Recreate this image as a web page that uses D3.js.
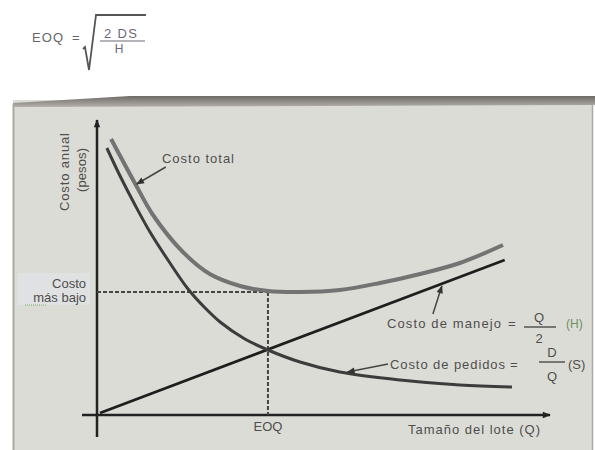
<!DOCTYPE html>
<html>
<head>
<meta charset="utf-8">
<script src="https://cdn.jsdelivr.net/npm/d3@7"></script>
<style>
  body { margin: 0; background: #fff; }
  text { font-family: "Liberation Sans", Arial, sans-serif; fill: #4e4e4e; }
</style>
</head>
<body>
<svg id="chart" width="595" height="450"></svg>
<script>
// lot size Q (x) and annual cost (y)
var orderQ    = [0.23, 0.54, 0.89, 1.24, 1.66, 2.13, 2.53, 2.88, 3.46, 4.0, 4.75, 5.68, 7.09, 8.49, 9.71];
var orderCost = [26.7, 23.9, 21.0, 18.3, 15.5, 12.6, 10.7, 9.3, 7.6, 6.5, 5.3, 4.3, 3.5, 3.0, 2.8];
var totalQ    = [0.33, 0.91, 1.31, 2.01, 2.64, 3.35, 4.0, 4.75, 5.68, 6.62, 7.56, 8.49, 9.5];
var totalCost = [27.6, 23.0, 20.0, 16.3, 14.1, 12.9, 12.4, 12.3, 12.5, 13.2, 14.1, 15.2, 17.0];
var holdQ     = [0.07, 9.54];
var holdCost  = [0.2, 15.5];
var eoq = 4.0;
var lowestCost = 12.3;

var svg = d3.select('#chart');

var x = d3.scaleLinear().domain([0, 10.6]).range([97, 550]);
var y = d3.scaleLinear().domain([0, 29.5]).range([415, 120]);

var defs = svg.append('defs');
var grad = defs.append('linearGradient').attr('id', 'band')
  .attr('x1', 0).attr('y1', 0).attr('x2', 0).attr('y2', 1);
grad.append('stop').attr('offset', '0%').attr('stop-color', '#6e6a66');
grad.append('stop').attr('offset', '100%').attr('stop-color', '#b3b0ab');

defs.append('marker').attr('id', 'head')
  .attr('viewBox', '0 -5 10 10').attr('refX', 9).attr('refY', 0)
  .attr('markerUnits', 'userSpaceOnUse')
  .attr('markerWidth', 9).attr('markerHeight', 8).attr('orient', 'auto')
  .append('path').attr('d', 'M0,-4L10,0L0,4Z').attr('fill', '#333');

defs.append('marker').attr('id', 'axisHead')
  .attr('viewBox', '0 -5 10 10').attr('refX', 9).attr('refY', 0)
  .attr('markerUnits', 'userSpaceOnUse')
  .attr('markerWidth', 10).attr('markerHeight', 8).attr('orient', 'auto')
  .append('path').attr('d', 'M0,-4L10,0L0,4Z').attr('fill', '#222');

// formula at the top
var f = svg.append('g').attr('class', 'formula');
f.append('text').attr('x', 32).attr('y', 42).style('font-size', '13px').style('fill', '#666')
  .attr('textLength', 31).text('EOQ');
f.append('text').attr('x', 72).attr('y', 42).style('font-size', '13px').style('fill', '#666').text('=');
f.append('path')
  .attr('d', 'M83,49 L85,47 L89,70 L96,15 L146,15')
  .attr('fill', 'none').attr('stroke', '#555').attr('stroke-width', 1.8);
f.append('text').attr('x', 104).attr('y', 38).style('font-size', '13px').style('fill', '#6f6878')
  .attr('textLength', 33).attr('lengthAdjust', 'spacing').text('2 DS');
f.append('line').attr('x1', 100).attr('x2', 145).attr('y1', 41).attr('y2', 41)
  .attr('stroke', '#6f6878').attr('stroke-width', 1.2);
f.append('text').attr('x', 119).attr('y', 53).attr('text-anchor', 'middle')
  .style('font-size', '12px').style('fill', '#6f6878').text('H');

// panel
svg.append('rect').attr('x', 13).attr('y', 100).attr('width', 580).attr('height', 350)
  .attr('fill', '#dcdcd6');
svg.append('polygon').attr('points', '13,103 130,96 595,96 595,105 13,107')
  .attr('fill', 'url(#band)');
svg.append('line').attr('x1', 13.5).attr('x2', 13.5).attr('y1', 104).attr('y2', 450)
  .attr('stroke', '#a9a8a3').attr('stroke-width', 2);
svg.append('line').attr('x1', 592.5).attr('x2', 592.5).attr('y1', 104).attr('y2', 450)
  .attr('stroke', '#aaa9a4').attr('stroke-width', 1.5);

// label background for "Costo mas bajo"
svg.append('rect').attr('x', 18).attr('y', 273).attr('width', 72).attr('height', 32)
  .attr('fill', '#e0e1e2');

// axes
svg.append('line').attr('class', 'axis')
  .attr('x1', x(0)).attr('x2', x(0)).attr('y1', y(-2.2)).attr('y2', y(29.5))
  .attr('stroke', '#222').attr('stroke-width', 2.5).attr('marker-end', 'url(#axisHead)');
svg.append('line').attr('class', 'axis')
  .attr('x1', x(-0.35)).attr('x2', x(10.6)).attr('y1', y(0)).attr('y2', y(0))
  .attr('stroke', '#222').attr('stroke-width', 2.5).attr('marker-end', 'url(#axisHead)');

// guide lines at EOQ / lowest cost
svg.append('line').attr('x1', x(0)).attr('x2', x(eoq)).attr('y1', y(lowestCost)).attr('y2', y(lowestCost))
  .attr('stroke', '#444').attr('stroke-width', 2).attr('stroke-dasharray', '4,2');
svg.append('line').attr('x1', x(eoq)).attr('x2', x(eoq)).attr('y1', y(lowestCost)).attr('y2', y(0))
  .attr('stroke', '#444').attr('stroke-width', 2).attr('stroke-dasharray', '4,2');

var line = d3.line()
  .x(function(d) { return x(d[0]); })
  .y(function(d) { return y(d[1]); })
  .curve(d3.curveCatmullRom.alpha(0.5));

svg.append('path').datum(d3.zip(holdQ, holdCost))
  .attr('d', line).attr('fill', 'none').attr('stroke', '#1e1e1e').attr('stroke-width', 2.8);
svg.append('path').datum(d3.zip(orderQ, orderCost))
  .attr('d', line).attr('fill', 'none').attr('stroke', '#3c3c3c').attr('stroke-width', 3);
svg.append('path').datum(d3.zip(totalQ, totalCost))
  .attr('d', line).attr('fill', 'none').attr('stroke', '#737373').attr('stroke-width', 4);

// annotation arrows
function arrow(q0, c0, q1, c1) {
  svg.append('line')
    .attr('x1', x(q0)).attr('y1', y(c0)).attr('x2', x(q1)).attr('y2', y(c1))
    .attr('stroke', '#444').attr('stroke-width', 1.5).attr('marker-end', 'url(#head)');
}
arrow(1.61, 24.8, 0.93, 23.1);
arrow(7.86, 10.1, 8.07, 12.9);
arrow(6.81, 5.1, 5.86, 4.3);

// texts
function label(tx, ty, s, opts) {
  opts = opts || {};
  var t = svg.append('text').attr('x', tx).attr('y', ty)
    .style('font-size', (opts.size || 13) + 'px')
    .attr('text-anchor', opts.anchor || 'start')
    .text(s);
  if (opts.len) t.attr('textLength', opts.len).attr('lengthAdjust', 'spacing');
  if (opts.fill) t.style('fill', opts.fill);
  return t;
}

label(162, 163, 'Costo total', {len: 72});
label(86, 288, 'Costo', {anchor: 'end'});
label(86, 302, 'más bajo', {anchor: 'end'});
svg.append('line').attr('x1', 25).attr('x2', 47).attr('y1', 305).attr('y2', 305)
  .attr('stroke', '#7fae6a').attr('stroke-width', 1).attr('stroke-dasharray', '1,1');
label(x(eoq), 431, 'EOQ', {anchor: 'middle'});
label(408, 434, 'Tamaño del lote (Q)', {len: 132});

label(387, 328, 'Costo de manejo', {len: 114});
label(508, 328, '=');
label(539, 322, 'Q', {anchor: 'middle'});
svg.append('line').attr('x1', 524).attr('x2', 556).attr('y1', 327).attr('y2', 327)
  .attr('stroke', '#555').attr('stroke-width', 1.5);
label(539, 343, '2', {anchor: 'middle'});
label(566, 328, '(H)', {fill: '#6f8f5e', size: 12});

label(390, 369, 'Costo de pedidos', {len: 115});
label(510, 369, '=');
label(552, 357, 'D', {anchor: 'middle'});
svg.append('line').attr('x1', 539).attr('x2', 565).attr('y1', 362).attr('y2', 362)
  .attr('stroke', '#555').attr('stroke-width', 1.5);
label(552, 381, 'Q', {anchor: 'middle'});
label(568, 369, '(S)');

svg.append('text').attr('transform', 'translate(69,172) rotate(-90)')
  .attr('text-anchor', 'middle').style('font-size', '13px')
  .attr('textLength', 78).attr('lengthAdjust', 'spacing').text('Costo anual');
svg.append('text').attr('transform', 'translate(86,170) rotate(-90)')
  .attr('text-anchor', 'middle').style('font-size', '13px')
  .attr('textLength', 44).attr('lengthAdjust', 'spacing').text('(pesos)');
</script>
</body>
</html>
